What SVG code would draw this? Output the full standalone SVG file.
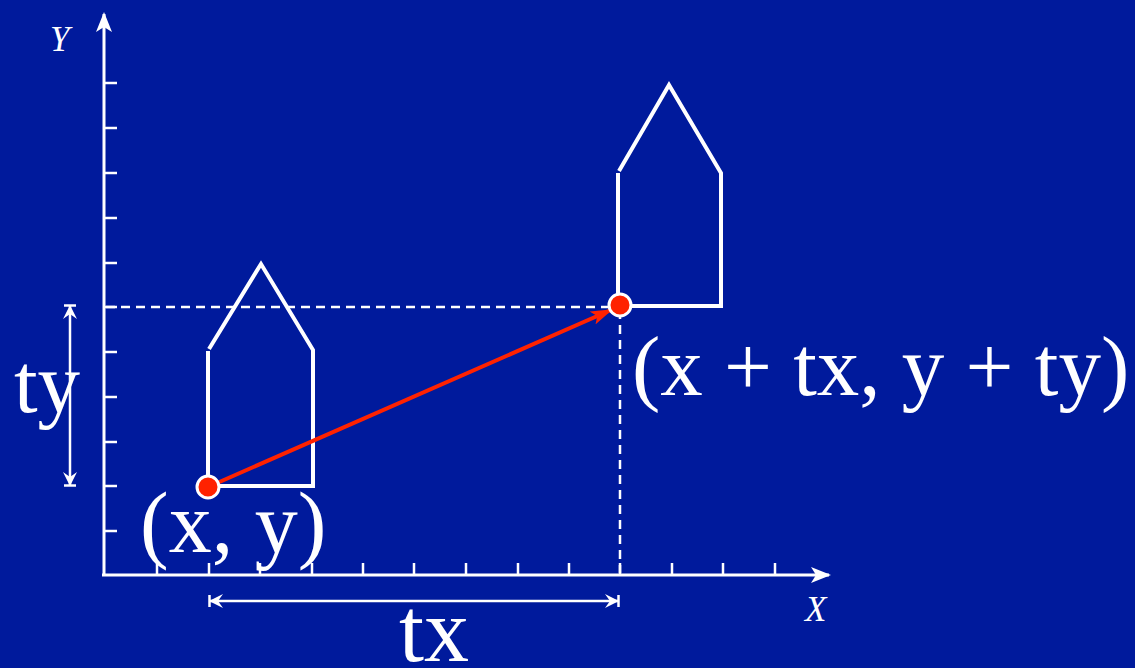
<svg xmlns="http://www.w3.org/2000/svg" width="1135" height="668" viewBox="0 0 1135 668">
<defs>
<style>
.ax{stroke:#fff;stroke-width:3;fill:none}
.tk{stroke:#fff;stroke-width:2.5}
.house{stroke:#fff;stroke-width:4;fill:none;stroke-linejoin:miter}
.dash{stroke:#fff;stroke-width:2.5;stroke-dasharray:9 6;fill:none}
.dim{stroke:#fff;stroke-width:2.5;fill:none}
.big{font-family:"Liberation Serif","Times New Roman",serif;fill:#fff}
.lab{font-family:"Liberation Serif","Times New Roman",serif;font-style:italic;fill:#fff;font-size:35px}
.dot{fill:#ff2200;stroke:#fff;stroke-width:3}
</style>
<marker id="axhead" viewBox="0 0 20 16" refX="18" refY="8" markerWidth="20" markerHeight="16" markerUnits="userSpaceOnUse" orient="auto">
<path d="M0,0 L20,8 L0,16 L5,8 Z" fill="#fff"/>
</marker>
<marker id="dimhead" viewBox="0 0 16 16" refX="15" refY="8" markerWidth="16" markerHeight="16" markerUnits="userSpaceOnUse" orient="auto-start-reverse">
<path d="M1,1 L15,8 L1,15 L6,8 Z" fill="#fff"/>
<path d="M14.5,2 L14.5,14" stroke="#fff" stroke-width="2.5"/>
</marker>
<marker id="redhead" viewBox="0 0 22 14" refX="20" refY="7" markerWidth="22" markerHeight="14" markerUnits="userSpaceOnUse" orient="auto">
<path d="M0,0 L22,7 L0,14 L5,7 Z" fill="#ff2200"/>
</marker>
</defs>
<rect width="1135" height="668" fill="#001a9c"/>

<g id="axes">
<line class="ax" x1="104" y1="576" x2="104" y2="14" marker-end="url(#axhead)"/>
<line class="ax" x1="102" y1="575" x2="829" y2="575" marker-end="url(#axhead)"/>
<g class="tk">
<line x1="104" y1="83" x2="117" y2="83"/>
<line x1="104" y1="128" x2="117" y2="128"/>
<line x1="104" y1="173" x2="117" y2="173"/>
<line x1="104" y1="218" x2="117" y2="218"/>
<line x1="104" y1="263" x2="117" y2="263"/>
<line x1="104" y1="307" x2="117" y2="307"/>
<line x1="104" y1="352" x2="117" y2="352"/>
<line x1="104" y1="397" x2="117" y2="397"/>
<line x1="104" y1="442" x2="117" y2="442"/>
<line x1="104" y1="486" x2="117" y2="486"/>
<line x1="104" y1="531" x2="117" y2="531"/>
<line x1="157" y1="575" x2="157" y2="563"/>
<line x1="209" y1="575" x2="209" y2="563"/>
<line x1="260" y1="575" x2="260" y2="563"/>
<line x1="312" y1="575" x2="312" y2="563"/>
<line x1="363" y1="575" x2="363" y2="563"/>
<line x1="414" y1="575" x2="414" y2="563"/>
<line x1="466" y1="575" x2="466" y2="563"/>
<line x1="518" y1="575" x2="518" y2="563"/>
<line x1="569" y1="575" x2="569" y2="563"/>
<line x1="620" y1="575" x2="620" y2="563"/>
<line x1="672" y1="575" x2="672" y2="563"/>
<line x1="723" y1="575" x2="723" y2="563"/>
<line x1="775" y1="575" x2="775" y2="563"/>
</g>
<text class="lab" x="50" y="51">Y</text>
<text class="lab" x="805" y="621">X</text>
</g>

<g id="house1">
<path class="house" d="M208,486 L208,351 M209,349 L261,264 L313,350 L313,486 L208,486"/>
</g>
<g id="house2">
<path class="house" d="M618,306 L618,173 M619,171 L669,85 L721,173 L721,306 L618,306"/>
</g>

<g id="connectors">
<line class="dash" x1="106" y1="307" x2="616" y2="307"/>
<line class="dash" x1="620" y1="310" x2="620" y2="573"/>
<line class="dim" x1="70" y1="305" x2="70" y2="486" marker-start="url(#dimhead)" marker-end="url(#dimhead)"/>
<line class="dim" x1="209" y1="601" x2="619" y2="601" marker-start="url(#dimhead)" marker-end="url(#dimhead)"/>
<line x1="208" y1="487" x2="611" y2="310" stroke="#ff2200" stroke-width="4" marker-end="url(#redhead)"/>
</g>

<g id="p1">
<circle class="dot" cx="208" cy="487" r="11"/>
<text class="big" x="140" y="552" font-size="86">(x, y)</text>
</g>
<g id="p2">
<circle class="dot" cx="620" cy="305" r="11"/>
<text class="big" x="632" y="395" font-size="85">(x + tx, y + ty)</text>
</g>
<text id="ty" class="big" x="14" y="412" font-size="85">ty</text>
<text id="tx" class="big" x="399" y="661" font-size="90">tx</text>
</svg>
